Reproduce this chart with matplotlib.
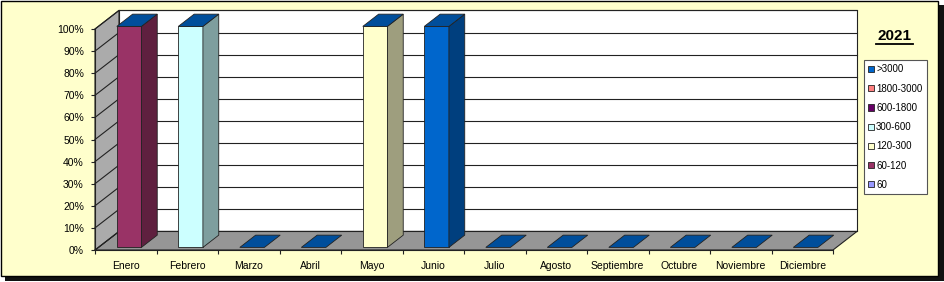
import matplotlib
matplotlib.use('Agg')
import matplotlib.pyplot as plt
from matplotlib.patches import Polygon, Rectangle, Patch
from matplotlib.lines import Line2D
from matplotlib.colors import to_rgb

plt.rcParams['font.family'] = ['Liberation Sans', 'DejaVu Sans']

# ---------------- data ----------------
months = ['Enero', 'Febrero', 'Marzo', 'Abril', 'Mayo', 'Junio', 'Julio',
          'Agosto', 'Septiembre', 'Octubre', 'Noviembre', 'Diciembre']
title = '2021'
# series, bottom to top of the stack (percent of month)
series_names = ['60', '60-120', '120-300', '300-600', '600-1800', '1800-3000', '>3000']
series_colors = ['#9999FF', '#993366', '#FFFFCC', '#CCFFFF', '#660066', '#FF8080', '#0066CC']
s_60        = [0, 0, 0, 0, 0, 0, 0, 0, 0, 0, 0, 0]
s_60_120    = [100, 0, 0, 0, 0, 0, 0, 0, 0, 0, 0, 0]
s_120_300   = [0, 0, 0, 0, 100, 0, 0, 0, 0, 0, 0, 0]
s_300_600   = [0, 100, 0, 0, 0, 0, 0, 0, 0, 0, 0, 0]
s_600_1800  = [0, 0, 0, 0, 0, 0, 0, 0, 0, 0, 0, 0]
s_1800_3000 = [0, 0, 0, 0, 0, 0, 0, 0, 0, 0, 0, 0]
s_3000      = [0, 0, 0, 0, 0, 100, 0, 0, 0, 0, 0, 0]
series_values = [s_60, s_60_120, s_120_300, s_300_600, s_600_1800, s_1800_3000, s_3000]
y_ticks = list(range(0, 101, 10))

# ---------------- style ----------------
W_PX, H_PX = 945, 282
BG = '#FFFFCC'
DX, DY = 0.39, 8.4          # depth of the 3-D box in data units
BAR_W = 0.40
F0, F1 = 0.14, 0.80         # bar depth span (fraction of box depth)


def shade(c, f):
    r, g, b = to_rgb(c)
    return (r * f, g * f, b * f)


fig = plt.figure(figsize=(W_PX / 100, H_PX / 100), dpi=100)
fig.patch.set_facecolor('white')

# background frame with shadow
bg = fig.add_axes([0, 0, 1, 1])
bg.set_xlim(0, W_PX)
bg.set_ylim(H_PX, 0)
bg.axis('off')
bg.add_patch(Rectangle((5, 5), 939, 276, facecolor='#111111', edgecolor='none'))
bg.add_patch(Rectangle((1, 1), 937, 275, facecolor=BG, edgecolor='black', lw=1.0))

# main axes = front plane of the 3-D box
ax = fig.add_axes([95 / W_PX, (H_PX - 250) / H_PX, 738 / W_PX, 221 / H_PX])
ax.set_xlim(-0.5, len(months) - 0.5)
ax.set_ylim(0, 100)
ax.patch.set_visible(False)
for s in ['top', 'right']:
    ax.spines[s].set_visible(False)
for s in ['left', 'bottom']:
    ax.spines[s].set_color('#222222')
    ax.spines[s].set_linewidth(0.8)
    ax.spines[s].set_zorder(6)

x_lo, x_hi = -0.5, len(months) - 0.5
# back wall
ax.add_patch(Rectangle((x_lo + DX, DY), x_hi - x_lo, 100, facecolor='white',
                       edgecolor='#222222', lw=0.8, clip_on=False, zorder=1))
# floor
ax.add_patch(Polygon([(x_lo, 0), (x_hi, 0), (x_hi + DX, DY), (x_lo + DX, DY)],
                     closed=True, facecolor='#969696', edgecolor='#222222', lw=0.8,
                     clip_on=False, zorder=1.2))
# side wall
ax.add_patch(Polygon([(x_lo, 0), (x_lo, 100), (x_lo + DX, 100 + DY), (x_lo + DX, DY)],
                     closed=True, facecolor='#ABABAB', edgecolor='#222222', lw=0.8,
                     clip_on=False, zorder=1.2))
# gridlines
for v in y_ticks:
    ax.add_line(Line2D([x_lo + DX, x_hi + DX], [v + DY, v + DY], color='#222222',
                       lw=0.8, clip_on=False, zorder=1.3))
    ax.add_line(Line2D([x_lo, x_lo + DX], [v, v + DY], color='#222222',
                       lw=0.8, clip_on=False, zorder=1.3))

# bars
ddx, ddy = (F1 - F0) * DX, (F1 - F0) * DY
for i in range(len(months)):
    x0 = i - BAR_W / 2 + F0 * DX
    base = F0 * DY
    cum = 0.0
    for name, col, vals in zip(series_names, series_colors, series_values):
        h = vals[i]
        if h > 0:
            b0, b1 = base + cum, base + cum + h
            ax.add_patch(Rectangle((x0, b0), BAR_W, h, facecolor=col,
                                   edgecolor='#222222', lw=0.6, clip_on=False, zorder=3))
            ax.add_patch(Polygon([(x0 + BAR_W, b0), (x0 + BAR_W + ddx, b0 + ddy),
                                  (x0 + BAR_W + ddx, b1 + ddy), (x0 + BAR_W, b1)],
                                 closed=True, facecolor=shade(col, 0.62),
                                 edgecolor='#222222', lw=0.6, clip_on=False, zorder=3))
            cum += h
    top_col = series_colors[-1]
    t = base + cum
    ax.add_patch(Polygon([(x0, t), (x0 + BAR_W, t), (x0 + BAR_W + ddx, t + ddy),
                          (x0 + ddx, t + ddy)], closed=True,
                         facecolor=shade(top_col, 0.76), edgecolor='#222222', lw=0.6,
                         clip_on=False, zorder=3.1))

# ticks
ax.set_yticks(y_ticks)
ax.set_yticklabels([f'{v}%' for v in y_ticks])
ax.tick_params(axis='y', direction='out', length=3, width=0.8, color='#222222',
               labelsize=7.5, pad=5)
ax.set_xticks(range(len(months)))
ax.set_xticklabels(months)
ax.set_xticks([k - 0.5 for k in range(len(months) + 1)], minor=True)
ax.tick_params(axis='x', which='major', length=0, labelsize=7.5, pad=8)
ax.tick_params(axis='x', which='minor', direction='out', length=3, width=0.8,
               color='#222222')

# title
fig.text(895 / W_PX, 1 - 36.5 / H_PX, title, ha='center', va='center',
         fontsize=11, fontweight='bold')
bg.add_line(Line2D([876, 913], [44, 44], color='black', lw=1.3))

# legend (top series first)
handles = [Patch(facecolor=c, edgecolor='#222222', lw=0.6, label=n)
           for n, c in zip(series_names[::-1], series_colors[::-1])]
leg = fig.legend(handles=handles, loc='upper left',
                 bbox_to_anchor=(864 / W_PX, 1 - 60 / H_PX), fontsize=7,
                 frameon=True, fancybox=False, framealpha=1, facecolor='white',
                 edgecolor='#555555', handlelength=0.6, handleheight=0.6,
                 handletextpad=0.2, labelspacing=0.95, borderpad=0.45,
                 borderaxespad=0)
leg.get_frame().set_linewidth(0.8)

fig.savefig('out.png', dpi=100)
